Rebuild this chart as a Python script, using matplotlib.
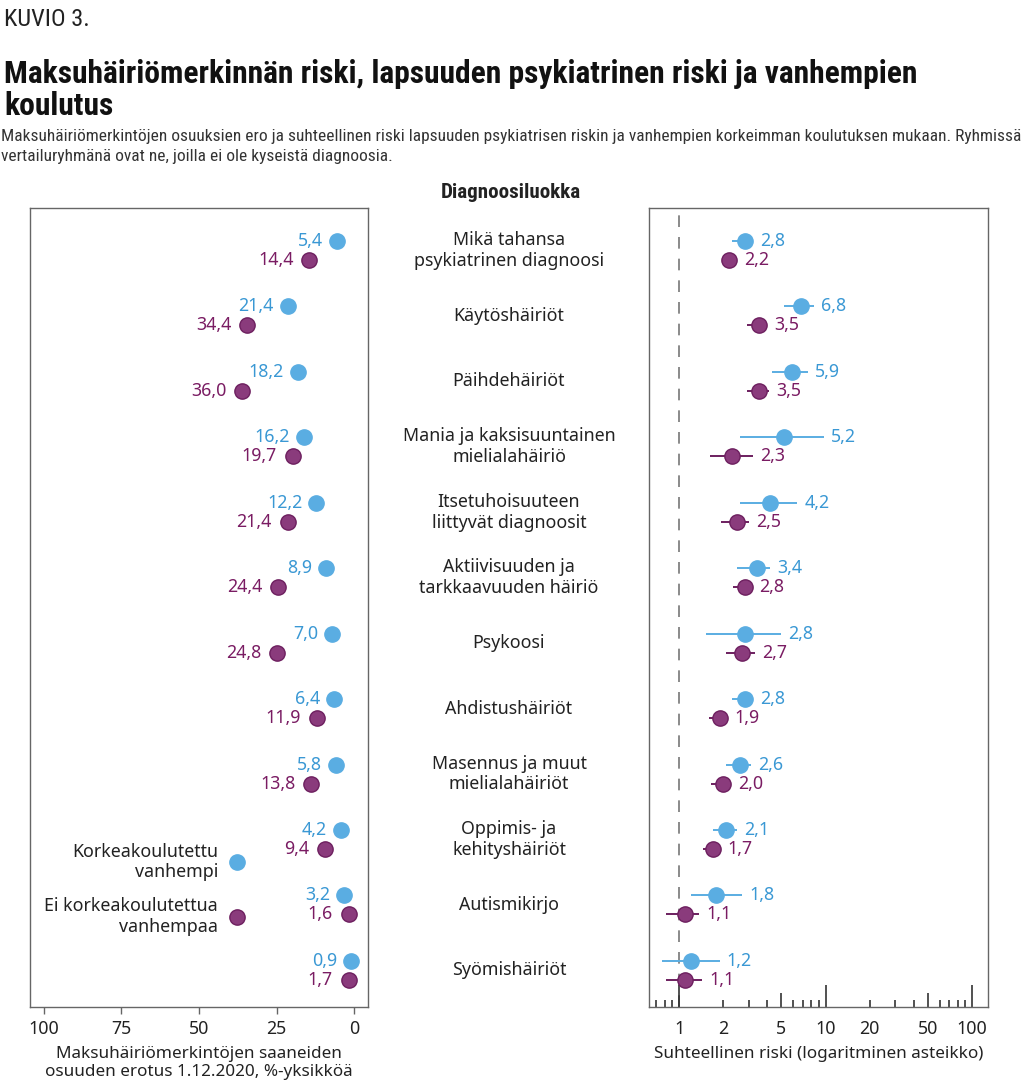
import numpy as np
import matplotlib
matplotlib.use("Agg")
import matplotlib.pyplot as plt
from matplotlib import font_manager
from matplotlib.transforms import blended_transform_factory

# ---------------- data ----------------
categories = [
    "Mikä tahansa\npsykiatrinen diagnoosi", "Käytöshäiriöt", "Päihdehäiriöt",
    "Mania ja kaksisuuntainen\nmielialahäiriö", "Itsetuhoisuuteen\nliittyvät diagnoosit",
    "Aktiivisuuden ja\ntarkkaavuuden häiriö", "Psykoosi", "Ahdistushäiriöt",
    "Masennus ja muut\nmielialahäiriöt", "Oppimis- ja\nkehityshäiriöt", "Autismikirjo",
    "Syömishäiriöt",
]
series_names = ["Korkeakoulutettu\nvanhempi", "Ei korkeakoulutettua\nvanhempaa"]

high_diff = [5.4, 21.4, 18.2, 16.2, 12.2, 8.9, 7.0, 6.4, 5.8, 4.2, 3.2, 0.9]
low_diff = [14.4, 34.4, 36.0, 19.7, 21.4, 24.4, 24.8, 11.9, 13.8, 9.4, 1.6, 1.7]

high_rr = [2.8, 6.8, 5.9, 5.2, 4.2, 3.4, 2.8, 2.8, 2.6, 2.1, 1.8, 1.2]
high_lo = [2.3, 5.2, 4.3, 2.6, 2.6, 2.5, 1.53, 2.3, 2.1, 1.7, 1.2, 0.77]
high_hi = [3.2, 8.4, 7.6, 9.8, 6.4, 4.2, 5.0, 3.2, 3.1, 2.5, 2.7, 1.9]
low_rr = [2.2, 3.5, 3.5, 2.3, 2.5, 2.8, 2.7, 1.9, 2.0, 1.7, 1.1, 1.1]
low_lo = [2.1, 2.9, 2.9, 1.64, 1.93, 2.35, 2.1, 1.6, 1.65, 1.45, 0.82, 0.82]
low_hi = [2.3, 4.0, 4.1, 3.2, 3.0, 3.1, 3.3, 2.05, 2.2, 1.8, 1.37, 1.44]

left_ticks = [100, 75, 50, 25, 0]
right_tick_labels = [1, 2, 5, 10, 20, 50, 100]
right_long = [1, 10, 100]
right_mid = [5, 50]
right_short = [0.7, 0.8, 0.9, 2, 3, 4, 6, 7, 8, 9, 20, 30, 40, 60, 70, 80, 90]

# ---------------- style ----------------
names = {f.name for f in font_manager.fontManager.ttflist}
BODY = "Noto Sans" if "Noto Sans" in names else "DejaVu Sans"
COND = BODY
for cand in ["Liberation Sans Narrow", "Roboto Condensed", "Open Sans Condensed",
             "Noto Sans Condensed", "DejaVu Sans Condensed"]:
    if cand in names:
        COND = cand
        break
plt.rcParams["font.family"] = [BODY, "DejaVu Sans"]

BLUE = "#5aade2"
BLUE_T = "#3a98d4"
PURP = "#8a3b7c"
PURP_E = "#6d1f5f"
PURP_T = "#7a1c63"
DARK = "#222222"
SPINE = "#666666"

fig = plt.figure(figsize=(10.24, 10.88), dpi=100)
W, H = 1024, 1088


def ax_rect(x0, y0, x1, y1):
    return [x0 / W, 1 - y1 / H, (x1 - x0) / W, (y1 - y0) / H]


axL = fig.add_axes(ax_rect(30, 208, 368, 1007))
axR = fig.add_axes(ax_rect(649, 208, 988, 1007))

n = len(categories)
rows = np.arange(n)
off = 0.145
ylim = (n - 1 + 0.56, -0.65)

for ax in (axL, axR):
    ax.set_ylim(*ylim)
    ax.set_yticks([])
    for s in ax.spines.values():
        s.set_color(SPINE)
        s.set_linewidth(1.0)

FS = 12.8

# ---------------- left panel ----------------
axL.set_xlim(104.5, -4.5)
axL.set_xticks(left_ticks)
axL.set_xticklabels([str(t) for t in left_ticks])
axL.tick_params(axis="x", direction="out", length=5, width=1, color=SPINE,
                labelsize=FS, labelcolor=DARK, pad=4)

ms = 11
axL.plot(high_diff, rows - off, "o", ms=ms, color=BLUE, mec=BLUE, zorder=3)
axL.plot(low_diff, rows + off, "o", ms=ms, color=PURP, mec=PURP_E, mew=1, zorder=3)
for i in range(n):
    axL.annotate(f"{high_diff[i]:.1f}".replace(".", ","), (high_diff[i], i - off),
                 xytext=(-14, 0), textcoords="offset pixels", ha="right", va="center",
                 color=BLUE_T, fontsize=FS)
    axL.annotate(f"{low_diff[i]:.1f}".replace(".", ","), (low_diff[i], i + off),
                 xytext=(-16, 0), textcoords="offset pixels", ha="right", va="center",
                 color=PURP_T, fontsize=FS)

axL.set_xlabel("Maksuhäiriömerkintöjen saaneiden\nosuuden erotus 1.12.2020, %-yksikköä",
               fontsize=12.3, color=DARK, labelpad=6, linespacing=1.15)

# legend inside left panel
leg_x = 0.612
leg_ys = [0.1815, 0.113]
axL.plot([leg_x], [leg_ys[0]], "o", ms=ms, color=BLUE, transform=axL.transAxes, clip_on=False)
axL.plot([leg_x], [leg_ys[1]], "o", ms=ms, color=PURP, mec=PURP_E, mew=1,
         transform=axL.transAxes, clip_on=False)
for y, t in zip(leg_ys, series_names):
    axL.text(0.556, y, t, transform=axL.transAxes, ha="right", va="center",
             multialignment="right", fontsize=FS, color=DARK, linespacing=1.2)

# ---------------- right panel ----------------
axR.set_xscale("log")
axR.set_xlim(0.624, 128.5)
axR.xaxis.set_major_locator(matplotlib.ticker.FixedLocator(right_tick_labels))
axR.xaxis.set_minor_locator(matplotlib.ticker.NullLocator())
axR.set_xticklabels([str(t) for t in right_tick_labels])
axR.tick_params(axis="x", which="major", length=0, labelsize=FS, labelcolor=DARK, pad=9)
xt = axR.get_xaxis_transform()
for vals, ln in ((right_long, 0.0275), (right_mid, 0.018), (right_short, 0.009)):
    axR.vlines(vals, 0, ln, transform=xt, color=DARK, lw=1.1)
axR.axvline(1, color="#777777", lw=1.2, ls=(0, (7, 6)), zorder=1)

axR.hlines(rows - off, high_lo, high_hi, color=BLUE, lw=1.4, zorder=2)
axR.hlines(rows + off, low_lo, low_hi, color=PURP_E, lw=1.4, zorder=2)
axR.plot(high_rr, rows - off, "o", ms=ms, color=BLUE, mec=BLUE, zorder=3)
axR.plot(low_rr, rows + off, "o", ms=ms, color=PURP, mec=PURP_E, mew=1, zorder=3)

tr = axR.transData
rad_px = ms * 100 / 72 / 2
for vals, los, his, dy, col in ((high_rr, high_lo, high_hi, -off, BLUE_T),
                                (low_rr, low_lo, low_hi, off, PURP_T)):
    for i in range(n):
        xv = tr.transform((vals[i], 0))[0]
        xh = tr.transform((his[i], 0))[0]
        anchor = max(xh, xv + rad_px) + 7
        axR.annotate(f"{vals[i]:.1f}".replace(".", ","), (vals[i], i + dy),
                     xytext=(anchor - xv, 0), textcoords="offset pixels",
                     ha="left", va="center", color=col, fontsize=FS)

axR.set_xlabel("Suhteellinen riski (logaritminen asteikko)", fontsize=12.3, color=DARK,
               labelpad=6)

# ---------------- center category labels ----------------
bt = blended_transform_factory(fig.transFigure, axL.transData)
for i, c in enumerate(categories):
    fig.text(509 / W, i, c, transform=bt, ha="center", va="center", fontsize=FS,
             color=DARK, linespacing=1.2)

# ---------------- titles ----------------
fig.canvas.draw()
r = fig.canvas.get_renderer()


def fit(t, target):
    w = t.get_window_extent(r).width
    t.set_fontsize(t.get_fontsize() * target / w)


td = fig.text(511 / W, 1 - 193 / H, "Diagnoosiluokka", ha="center", va="center",
              fontsize=12.5, fontweight="bold", color=DARK, family=[COND, "DejaVu Sans"])
t0 = fig.text(4 / W, 1 - 19 / H, "KUVIO 3.", ha="left", va="center", fontsize=13,
              color=DARK, family=[COND, "DejaVu Sans"])
t1 = fig.text(4 / W, 1 - 90 / H,
              "Maksuhäiriömerkinnän riski, lapsuuden psykiatrinen riski ja vanhempien\nkoulutus",
              ha="left", va="center", fontsize=20, fontweight="semibold", color="#111111",
              family=[COND, "DejaVu Sans"], linespacing=1.05)
t2 = fig.text(1 / W, 1 - 146.5 / H,
              "Maksuhäiriömerkintöjen osuuksien ero ja suhteellinen riski lapsuuden psykiatrisen riskin ja vanhempien korkeimman koulutuksen mukaan. Ryhmissä\nvertailuryhmänä ovat ne, joilla ei ole kyseistä diagnoosia.",
              ha="left", va="center", fontsize=11, color="#333333",
              family=[COND, "DejaVu Sans"], linespacing=1.4)
fit(td, 140)
fit(t0, 85)
fit(t1, 911)
fit(t2, 1014)

fig.savefig("out.png", dpi=100)
